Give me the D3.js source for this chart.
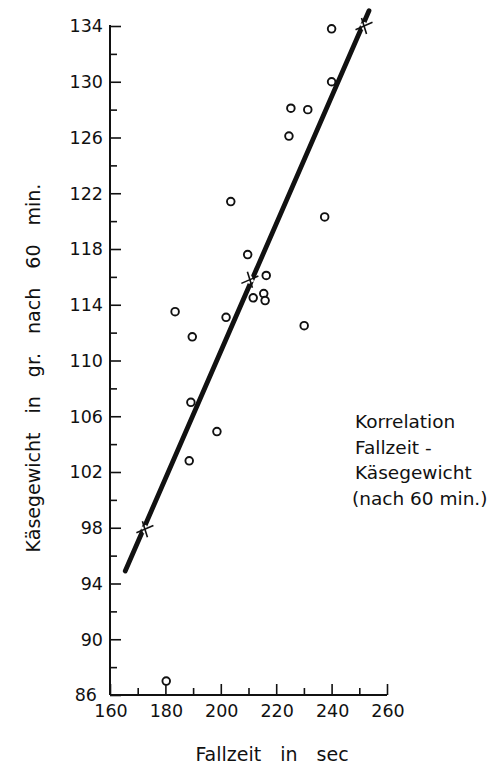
<!DOCTYPE html>
<html>
<head>
<meta charset="utf-8">
<script src="https://cdn.jsdelivr.net/npm/d3@7"></script>
<style>
  html, body { margin: 0; padding: 0; background: #fff; }
  svg { display: block; }
  text { font-family: "DejaVu Sans", sans-serif; fill: #111; }
</style>
</head>
<body>
<script>
// Fallzeit (s) and Käsegewicht (g after 60 min) for each sample
const fallzeit = [240, 240, 225.3, 231.4, 224.6, 203.6, 237.5, 209.7, 216.4, 211.7,
                  215.5, 216, 201.9, 189.7, 230.1, 189.2, 198.6, 188.6, 183.5, 180.3];
const gewicht  = [133.8, 130, 128.1, 128, 126.1, 121.4, 120.3, 117.6, 116.1, 114.5,
                  114.8, 114.3, 113.1, 111.7, 112.5, 107.0, 104.9, 102.8, 113.5, 87.0];

// regression line: end points and the three marked points on it
const lineX = [165.5, 253.5];
const lineY = [94.9, 135.1];
const markX = [172.6, 210.5, 251.7];
const markY = [97.9, 115.8, 134.0];

const xTickValues = d3.range(160, 261, 10);
const xTickLabels = [160, 180, 200, 220, 240, 260];
const yTickValues = d3.range(86, 135, 2);
const yTickLabels = [86, 90, 94, 98, 102, 106, 110, 114, 118, 122, 126, 130, 134];

const W = 504, H = 767;
const svg = d3.select("body").append("svg").attr("width", W).attr("height", H);

const x = d3.scaleLinear().domain([160, 260]).range([110, 387]);
const y = d3.scaleLinear().domain([86, 134]).range([695, 26]);

const ink = "#111";

// y axis: ticks point into the plot
const yAxis = d3.axisRight(y)
  .tickValues(yTickValues)
  .tickSize(0)
  .tickFormat("");
const gy = svg.append("g").attr("transform", `translate(${x(160)},0)`).call(yAxis);
gy.select(".domain").remove();
svg.append("line")
  .attr("x1", x(160)).attr("x2", x(160))
  .attr("y1", y(134) - 1).attr("y2", y(86))
  .attr("stroke", ink).attr("stroke-width", 2);
gy.selectAll(".tick line").remove();
gy.selectAll(".tick").append("line")
  .attr("x1", 0)
  .attr("x2", d => yTickLabels.includes(d) ? 11 : 7)
  .attr("stroke", ink).attr("stroke-width", 1.6);

svg.append("g").selectAll("text").data(yTickLabels).join("text")
  .attr("x", d => d === 86 ? 97 : 103)
  .attr("y", d => y(d))
  .attr("dy", "0.36em")
  .attr("text-anchor", "end")
  .attr("font-size", 17.5)
  .text(d => d);

// x axis: ticks point up into the plot
const xAxis = d3.axisTop(x).tickValues(xTickValues).tickSize(0).tickFormat("");
const gx = svg.append("g").attr("transform", `translate(0,${y(86)})`).call(xAxis);
gx.select(".domain").remove();
svg.append("line")
  .attr("x1", x(160)).attr("x2", x(260))
  .attr("y1", y(86)).attr("y2", y(86))
  .attr("stroke", ink).attr("stroke-width", 2);
gx.selectAll(".tick line").remove();
gx.selectAll(".tick").append("line")
  .attr("y1", 0)
  .attr("y2", d => xTickLabels.includes(d) ? -11 : -7)
  .attr("stroke", ink).attr("stroke-width", 1.6);

svg.append("g").selectAll("text").data(xTickLabels).join("text")
  .attr("x", d => x(d) + 1)
  .attr("y", 717)
  .attr("text-anchor", "middle")
  .attr("font-size", 17.5)
  .text(d => d);

// axis titles
svg.append("text")
  .attr("x", 272).attr("y", 761)
  .attr("text-anchor", "middle")
  .attr("font-size", 19)
  .attr("word-spacing", 13)
  .text("Fallzeit in sec");

svg.append("text")
  .attr("transform", "translate(40,368) rotate(-90)")
  .attr("text-anchor", "middle")
  .attr("font-size", 19)
  .attr("word-spacing", 13)
  .text("Käsegewicht in gr. nach 60 min.");

// regression line
svg.append("path")
  .datum(d3.zip(lineX, lineY))
  .attr("d", d3.line().x(d => x(d[0])).y(d => y(d[1])))
  .attr("fill", "none")
  .attr("stroke", ink)
  .attr("stroke-width", 4.8)
  .attr("stroke-linecap", "round");

// crosses marking points on the line (white halo leaves a gap in the line)
const marks = svg.append("g").selectAll("g").data(d3.zip(markX, markY)).join("g")
  .attr("transform", d => `translate(${x(d[0])},${y(d[1])})`);
const armPaths = ["M-8.5,3.7L8.5,-3.7", "M-2.5,-8L2.5,8"];
marks.selectAll("path.halo").data(["M-1.5,-3L1.5,3"]).join("path")
  .attr("class", "halo")
  .attr("d", d => d)
  .attr("stroke", "#fff").attr("stroke-width", 6);
marks.selectAll("path.arm").data(armPaths).join("path")
  .attr("class", "arm")
  .attr("d", d => d)
  .attr("stroke", ink).attr("stroke-width", 1.6).attr("fill", "none");

// sample points
svg.append("g").selectAll("circle").data(d3.zip(fallzeit, gewicht)).join("circle")
  .attr("cx", d => x(d[0]))
  .attr("cy", d => y(d[1]))
  .attr("r", 3.8)
  .attr("fill", "#fff")
  .attr("stroke", ink)
  .attr("stroke-width", 1.9);

// note
const note = ["Korrelation", "Fallzeit -", "Käsegewicht", "(nach 60 min.)"];
svg.append("g").selectAll("text").data(note).join("text")
  .attr("x", (d, i) => i === 3 ? 352 : 355)
  .attr("y", (d, i) => 428 + i * 25.5)
  .attr("font-size", 18.5)
  .text(d => d);
</script>
</body>
</html>
